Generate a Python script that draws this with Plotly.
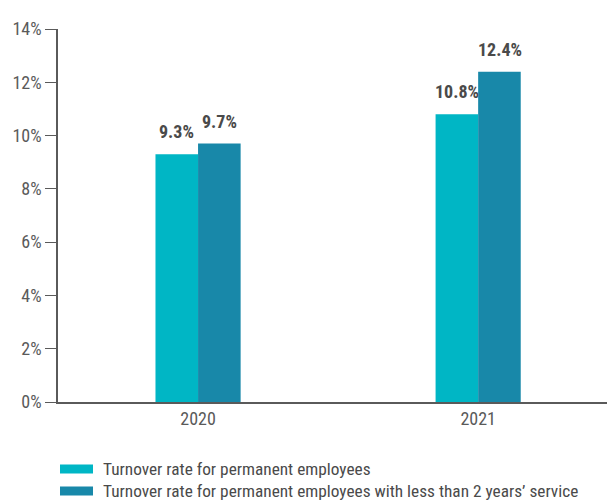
import plotly.graph_objects as go

years = ["2020", "2021"]
rate_all = [9.3, 10.8]
rate_short = [9.7, 12.4]
series_names = [
    "Turnover rate for permanent employees",
    "Turnover rate for permanent employees with less than 2 years\u2019 service",
]
y_ticks = [0, 2, 4, 6, 8, 10, 12, 14]
y_tick_labels = [f"{v}%" for v in y_ticks]

colors = ["#00B6C5", "#1888A9"]
FONT = "Liberation Sans Narrow, Roboto Condensed, Roboto, sans-serif"
GRAY = "#5a5a5a"
LABEL = "#4a4a4a"

fig = go.Figure()
for name, vals, col in zip(series_names, [rate_all, rate_short], colors):
    fig.add_trace(go.Bar(x=years, y=vals, name=name,
                         marker=dict(color=col, line=dict(width=0)),
                         showlegend=False))

# value labels above the bars
for vals, shift in [(rate_all, -21.5), (rate_short, 21.5)]:
    for i, v in enumerate(vals):
        fig.add_annotation(x=i, y=v, text=f"<b>{v:.1f}%</b>", showarrow=False,
                           xshift=shift, yshift=10, yanchor="bottom",
                           font=dict(family=FONT, size=18, color=LABEL))

# custom legend (wide swatches like the reference)
PLOT_L, PLOT_W, PLOT_B, PLOT_H = 58, 549, 402, 373
legend_y = [469, 491]
for name, col, ly in zip(series_names, colors, legend_y):
    yp = (PLOT_B - ly) / PLOT_H
    fig.add_shape(type="rect", xref="paper", yref="paper",
                  x0=(60 - PLOT_L) / PLOT_W, x1=(93 - PLOT_L) / PLOT_W,
                  y0=yp - 4.5 / PLOT_H, y1=yp + 4.5 / PLOT_H,
                  fillcolor=col, line=dict(width=0))
    fig.add_annotation(xref="paper", yref="paper", x=(101 - PLOT_L) / PLOT_W,
                       y=yp, text=name, showarrow=False,
                       xanchor="left", yanchor="middle",
                       font=dict(family=FONT, size=17.3, color=LABEL))

fig.update_layout(
    width=607, height=500,
    margin=dict(l=58, r=0, t=29, b=98),
    paper_bgcolor="white", plot_bgcolor="white",
    barmode="group", bargap=0.696, bargroupgap=0,
    font=dict(family=FONT, size=18, color=GRAY),
    xaxis=dict(type="category", range=[-0.5, 1.46], showline=True, linecolor=GRAY,
               linewidth=1.5, ticks="", showgrid=False,
               tickfont=dict(size=18, color=GRAY)),
    yaxis=dict(range=[0, 14], tickvals=y_ticks, ticktext=y_tick_labels,
               showline=True, linecolor=GRAY, linewidth=1.5, ticks="outside",
               ticklen=11, tickcolor=GRAY, tickwidth=1.2, showgrid=False,
               zeroline=False, tickfont=dict(size=18, color=GRAY)),
)

fig.write_html("out.html", config={"displayModeBar": False},
               post_script="document.body.style.margin='0px';document.body.style.padding='0px';")
